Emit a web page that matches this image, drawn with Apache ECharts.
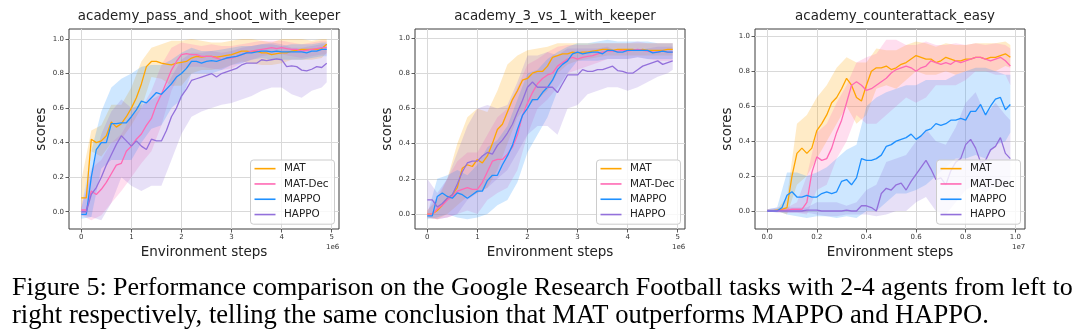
<!DOCTYPE html>
<html>
<head>
<meta charset="utf-8">
<script src="https://cdn.jsdelivr.net/npm/echarts@6/dist/echarts.min.js"></script>
<style>
html,body{margin:0;padding:0;background:#fff;}
#chart{width:1080px;height:334px;}
</style>
</head>
<body>
<div id="chart"></div>
<script>
// ---------------- DATA ----------------
const seriesNames = ['MAT', 'MAT-Dec', 'MAPPO', 'HAPPO'];
const panelTitles = ['academy_pass_and_shoot_with_keeper', 'academy_3_vs_1_with_keeper', 'academy_counterattack_easy'];

// x positions (environment steps, in units of 1e6 for panels 1-2 and 1e7 for panel 3)
const steps12 = [0.0,0.1,0.2,0.3,0.4,0.5,0.6,0.7,0.8,0.9,1.0,1.1,1.2,1.3,1.4,1.5,1.6,1.7,1.8,1.9,2.0,2.1,2.2,2.3,2.4,2.5,2.6,2.7,2.8,2.9,3.0,3.1,3.2,3.3,3.4,3.5,3.6,3.7,3.8,3.9,4.0,4.1,4.2,4.3,4.4,4.5,4.6,4.7,4.8,4.9];
const bandSteps12 = [0.0,0.2,0.4,0.6,0.8,1.0,1.2,1.4,1.6,1.8,2.0,2.2,2.4,2.6,2.8,3.0,3.2,3.4,3.6,3.8,4.0,4.2,4.4,4.6,4.8,4.9];
const steps3 = [0.00,0.02,0.04,0.06,0.08,0.10,0.12,0.14,0.16,0.18,0.20,0.22,0.24,0.26,0.28,0.30,0.32,0.34,0.36,0.38,0.40,0.42,0.44,0.46,0.48,0.50,0.52,0.54,0.56,0.58,0.60,0.62,0.64,0.66,0.68,0.70,0.72,0.74,0.76,0.78,0.80,0.82,0.84,0.86,0.88,0.90,0.92,0.94,0.96,0.98];
const bandSteps3 = [0.00,0.04,0.08,0.12,0.16,0.20,0.24,0.28,0.32,0.36,0.40,0.44,0.48,0.52,0.56,0.60,0.64,0.68,0.72,0.76,0.80,0.84,0.88,0.92,0.96,0.98];

// tick labels
const xTicks12 = [0, 1, 2, 3, 4, 5];
const xTicks3 = [0.0, 0.2, 0.4, 0.6, 0.8, 1.0];
const yTicks = [0.0, 0.2, 0.4, 0.6, 0.8, 1.0];
const xExponent = ['1e6', '1e6', '1e7'];

// ---- Panel 1: academy_pass_and_shoot_with_keeper ----
const p1_MAT     = [0.08,0.08,0.42,0.40,0.41,0.44,0.52,0.49,0.51,0.55,0.60,0.66,0.74,0.84,0.87,0.87,0.86,0.855,0.85,0.86,0.865,0.87,0.89,0.90,0.895,0.90,0.90,0.895,0.90,0.905,0.91,0.92,0.93,0.93,0.925,0.93,0.92,0.92,0.91,0.915,0.92,0.92,0.93,0.935,0.94,0.94,0.94,0.94,0.945,0.97];
const p1_MATDec  = [0.01,0.01,0.12,0.10,0.13,0.17,0.22,0.27,0.28,0.35,0.38,0.42,0.45,0.50,0.54,0.62,0.68,0.75,0.82,0.87,0.91,0.915,0.91,0.91,0.90,0.90,0.90,0.89,0.88,0.89,0.89,0.90,0.91,0.92,0.93,0.935,0.94,0.945,0.95,0.945,0.95,0.945,0.94,0.94,0.93,0.935,0.94,0.945,0.95,0.95];
const p1_MAPPO   = [-0.015,-0.015,0.20,0.36,0.40,0.40,0.51,0.51,0.515,0.515,0.55,0.59,0.64,0.63,0.66,0.69,0.68,0.71,0.74,0.78,0.80,0.83,0.87,0.87,0.86,0.87,0.875,0.87,0.88,0.89,0.895,0.90,0.91,0.92,0.92,0.925,0.93,0.93,0.925,0.93,0.925,0.925,0.925,0.925,0.925,0.92,0.93,0.93,0.94,0.94];
const p1_HAPPO   = [0.0,0.0,0.10,0.14,0.20,0.27,0.33,0.39,0.44,0.41,0.38,0.41,0.38,0.36,0.42,0.41,0.41,0.47,0.55,0.60,0.67,0.71,0.76,0.77,0.78,0.79,0.80,0.78,0.80,0.81,0.82,0.83,0.85,0.86,0.86,0.86,0.88,0.875,0.88,0.885,0.88,0.84,0.845,0.84,0.82,0.815,0.825,0.84,0.835,0.86];
const p1_MAT_lo    = [0.0,0.35,0.32,0.40,0.42,0.50,0.60,0.78,0.77,0.73,0.73,0.80,0.82,0.82,0.83,0.85,0.87,0.86,0.85,0.85,0.86,0.88,0.88,0.88,0.89,0.92];
const p1_MAT_hi    = [0.18,0.47,0.50,0.62,0.62,0.72,0.87,0.95,0.97,0.99,0.99,1.0,0.99,0.98,0.98,0.99,1.0,1.0,0.99,0.98,1.0,1.0,1.0,0.99,1.0,1.0];
const p1_MATDec_lo = [-0.02,-0.05,-0.02,0.05,0.12,0.20,0.28,0.35,0.50,0.70,0.82,0.84,0.84,0.83,0.82,0.83,0.86,0.88,0.90,0.91,0.91,0.90,0.89,0.90,0.91,0.91];
const p1_MATDec_hi = [0.04,0.25,0.30,0.40,0.45,0.55,0.60,0.70,0.85,0.95,0.98,0.97,0.96,0.97,0.96,0.96,0.97,0.98,0.99,0.99,0.99,0.98,0.97,0.98,0.99,0.99];
const p1_MAPPO_lo  = [-0.04,-0.03,0.25,0.30,0.30,0.30,0.40,0.48,0.50,0.60,0.65,0.80,0.80,0.80,0.82,0.85,0.86,0.88,0.89,0.88,0.88,0.88,0.88,0.89,0.90,0.90];
const p1_MAPPO_hi  = [0.01,0.35,0.58,0.72,0.77,0.80,0.84,0.85,0.85,0.88,0.92,0.95,0.93,0.93,0.94,0.95,0.96,0.96,0.97,0.97,0.96,0.97,0.97,0.97,0.98,0.98];
const p1_HAPPO_lo  = [-0.02,-0.03,-0.05,0.05,0.20,0.15,0.12,0.15,0.15,0.30,0.45,0.55,0.58,0.60,0.62,0.63,0.65,0.67,0.70,0.72,0.72,0.68,0.66,0.70,0.72,0.75];
const p1_HAPPO_hi  = [0.02,0.22,0.45,0.58,0.65,0.60,0.62,0.65,0.68,0.78,0.88,0.92,0.92,0.93,0.92,0.93,0.95,0.96,0.97,0.98,0.97,0.95,0.95,0.96,0.97,0.97];

// ---- Panel 2: academy_3_vs_1_with_keeper ----
const p2_MAT     = [0.0,0.0,0.02,0.05,0.09,0.11,0.15,0.26,0.28,0.27,0.31,0.29,0.33,0.40,0.48,0.51,0.58,0.65,0.70,0.76,0.77,0.80,0.81,0.81,0.84,0.89,0.90,0.91,0.91,0.92,0.915,0.92,0.92,0.925,0.93,0.935,0.935,0.93,0.935,0.935,0.935,0.935,0.93,0.935,0.93,0.93,0.93,0.93,0.935,0.935];
const p2_MATDec  = [0.0,0.0,0.03,0.05,0.08,0.10,0.13,0.14,0.15,0.14,0.14,0.18,0.24,0.30,0.31,0.31,0.34,0.38,0.45,0.56,0.63,0.69,0.74,0.77,0.79,0.80,0.84,0.86,0.88,0.89,0.88,0.89,0.895,0.90,0.91,0.92,0.925,0.925,0.925,0.93,0.925,0.93,0.935,0.93,0.925,0.92,0.92,0.925,0.92,0.92];
const p2_MAPPO   = [-0.01,-0.01,0.10,0.12,0.10,0.09,0.12,0.11,0.09,0.11,0.13,0.13,0.19,0.22,0.22,0.28,0.33,0.39,0.48,0.56,0.60,0.65,0.65,0.69,0.72,0.76,0.82,0.85,0.87,0.91,0.92,0.91,0.915,0.92,0.92,0.91,0.93,0.93,0.92,0.92,0.93,0.93,0.93,0.93,0.93,0.915,0.92,0.925,0.92,0.92];
const p2_HAPPO   = [0.08,0.08,0.04,0.06,0.09,0.11,0.17,0.24,0.29,0.30,0.30,0.33,0.35,0.34,0.39,0.42,0.46,0.51,0.58,0.645,0.72,0.75,0.72,0.72,0.72,0.72,0.69,0.74,0.79,0.79,0.79,0.82,0.81,0.81,0.82,0.82,0.83,0.84,0.815,0.81,0.80,0.80,0.82,0.84,0.85,0.86,0.87,0.85,0.86,0.87];
const p2_MAT_lo    = [-0.02,-0.03,0.0,0.05,0.10,0.12,0.15,0.25,0.40,0.55,0.62,0.65,0.70,0.80,0.85,0.87,0.88,0.89,0.90,0.90,0.90,0.90,0.90,0.90,0.90,0.90];
const p2_MAT_hi    = [0.02,0.08,0.20,0.40,0.55,0.60,0.58,0.70,0.85,0.90,0.93,0.94,0.95,0.97,0.97,0.97,0.97,0.97,0.97,0.97,0.97,0.97,0.97,0.97,0.97,0.97];
const p2_MATDec_lo = [-0.02,-0.03,-0.02,0.0,0.02,0.0,0.08,0.12,0.15,0.25,0.45,0.60,0.65,0.72,0.80,0.82,0.84,0.86,0.88,0.88,0.88,0.89,0.88,0.87,0.87,0.87];
const p2_MATDec_hi = [0.02,0.10,0.20,0.30,0.35,0.35,0.45,0.55,0.60,0.72,0.85,0.88,0.92,0.95,0.96,0.96,0.96,0.97,0.97,0.97,0.97,0.98,0.97,0.97,0.97,0.97];
const p2_MAPPO_lo  = [-0.03,-0.02,0.0,-0.02,-0.03,-0.02,0.0,0.05,0.08,0.18,0.35,0.45,0.55,0.70,0.80,0.87,0.87,0.87,0.88,0.88,0.88,0.89,0.88,0.88,0.88,0.88];
const p2_MAPPO_hi  = [0.0,0.20,0.22,0.25,0.22,0.28,0.38,0.42,0.50,0.65,0.80,0.82,0.88,0.92,0.95,0.97,0.97,0.98,0.99,0.98,0.98,0.98,0.98,0.97,0.97,0.97];
const p2_HAPPO_lo  = [-0.02,-0.03,-0.02,0.0,0.08,0.12,0.15,0.20,0.25,0.35,0.45,0.50,0.50,0.45,0.60,0.62,0.68,0.70,0.72,0.72,0.70,0.72,0.75,0.78,0.80,0.82];
const p2_HAPPO_hi  = [0.20,0.12,0.20,0.35,0.50,0.60,0.62,0.60,0.62,0.75,0.90,0.90,0.92,0.90,0.94,0.94,0.94,0.94,0.95,0.92,0.92,0.93,0.94,0.95,0.95,0.95];

// ---- Panel 3: academy_counterattack_easy ----
const p3_MAT     = [0.0,0.0,0.005,0.01,0.02,0.20,0.33,0.36,0.33,0.36,0.46,0.50,0.55,0.62,0.65,0.70,0.76,0.72,0.65,0.63,0.72,0.80,0.82,0.82,0.83,0.81,0.82,0.84,0.85,0.87,0.89,0.88,0.87,0.87,0.85,0.86,0.88,0.87,0.86,0.86,0.87,0.87,0.88,0.88,0.87,0.88,0.88,0.89,0.90,0.88];
const p3_MATDec  = [0.0,0.0,0.0,0.005,0.005,0.01,0.01,0.01,0.05,0.22,0.31,0.29,0.30,0.36,0.45,0.52,0.62,0.72,0.74,0.72,0.69,0.70,0.72,0.74,0.76,0.79,0.81,0.82,0.83,0.82,0.80,0.82,0.83,0.86,0.85,0.84,0.85,0.84,0.86,0.85,0.86,0.87,0.88,0.88,0.87,0.86,0.87,0.88,0.86,0.83];
const p3_MAPPO   = [0.0,0.0,0.0,0.02,0.09,0.11,0.08,0.08,0.09,0.08,0.08,0.10,0.11,0.10,0.11,0.17,0.18,0.15,0.19,0.30,0.29,0.29,0.30,0.32,0.37,0.38,0.40,0.41,0.42,0.44,0.41,0.43,0.46,0.47,0.50,0.49,0.50,0.52,0.52,0.53,0.52,0.57,0.57,0.61,0.55,0.60,0.64,0.65,0.58,0.61];
const p3_HAPPO   = [0.0,0.0,0.0,0.0,0.0,0.0,0.0,0.0,0.005,0.005,0.005,0.0,0.0,0.0,0.0,0.0,0.005,0.0,0.0,0.03,0.03,0.02,0.0,0.10,0.13,0.12,0.15,0.16,0.12,0.17,0.21,0.25,0.29,0.24,0.18,0.19,0.15,0.23,0.28,0.30,0.38,0.41,0.36,0.28,0.29,0.35,0.37,0.42,0.33,0.30];
const p3_MAT_lo    = [0.0,0.0,-0.02,0.15,0.20,0.30,0.40,0.50,0.60,0.50,0.55,0.70,0.72,0.70,0.75,0.80,0.78,0.78,0.80,0.78,0.80,0.80,0.80,0.80,0.83,0.82];
const p3_MAT_hi    = [0.01,0.01,0.08,0.50,0.55,0.65,0.72,0.82,0.88,0.85,0.85,0.93,0.92,0.92,0.95,0.97,0.96,0.94,0.96,0.95,0.95,0.96,0.96,0.96,0.97,0.95];
const p3_MATDec_lo = [0.0,0.0,-0.01,-0.01,-0.02,0.12,0.15,0.30,0.40,0.55,0.50,0.50,0.55,0.60,0.65,0.62,0.65,0.72,0.72,0.72,0.75,0.80,0.80,0.78,0.78,0.72];
const p3_MATDec_hi = [0.01,0.01,0.02,0.05,0.20,0.45,0.50,0.62,0.72,0.85,0.88,0.90,0.98,0.98,0.95,0.95,0.97,0.95,0.95,0.96,0.95,0.96,0.95,0.96,0.95,0.93];
const p3_MAPPO_lo  = [0.0,0.0,-0.02,-0.03,-0.04,-0.03,-0.03,-0.04,-0.03,-0.04,0.0,0.0,0.05,0.10,0.10,0.12,0.15,0.20,0.25,0.30,0.30,0.32,0.30,0.38,0.40,0.45];
const p3_MAPPO_hi  = [0.01,0.02,0.22,0.22,0.20,0.22,0.25,0.30,0.35,0.38,0.60,0.65,0.68,0.70,0.72,0.72,0.75,0.75,0.75,0.78,0.80,0.82,0.82,0.80,0.78,0.78];
const p3_HAPPO_lo  = [0.0,-0.01,-0.01,-0.01,-0.01,-0.02,-0.03,-0.03,-0.02,-0.02,-0.02,-0.03,-0.02,0.0,0.0,0.05,0.08,0.0,-0.02,0.05,0.12,0.15,0.10,0.15,0.12,0.15];
const p3_HAPPO_hi  = [0.01,0.02,0.02,0.02,0.02,0.05,0.05,0.05,0.03,0.05,0.12,0.15,0.28,0.30,0.32,0.40,0.47,0.40,0.38,0.48,0.62,0.68,0.55,0.62,0.55,0.52];

const captionLines = [
  'Figure 5: Performance comparison on the Google Research Football tasks with 2-4 agents from left to',
  'right respectively, telling the same conclusion that MAT outperforms MAPPO and HAPPO.'
];

// ---------------- STYLE / LAYOUT ----------------
const COLORS = ['#FFA500', '#FF69B4', '#1E90FF', '#9370DB'];
const FONT = 'DejaVu Sans';

const panels = [
  { steps: steps12, bandSteps: bandSteps12, ticks: xTicks12, xmin: -0.245, xmax: 5.145, ymin: -0.10, ymax: 1.058,
    lines: [p1_MAT, p1_MATDec, p1_MAPPO, p1_HAPPO],
    lo: [p1_MAT_lo, p1_MATDec_lo, p1_MAPPO_lo, p1_HAPPO_lo],
    hi: [p1_MAT_hi, p1_MATDec_hi, p1_MAPPO_hi, p1_HAPPO_hi],
    grid: { left: 69, top: 29, width: 270, height: 200 }, fmt: v => String(Math.round(v)) },
  { steps: steps12, bandSteps: bandSteps12, ticks: xTicks12, xmin: -0.245, xmax: 5.145, ymin: -0.085, ymax: 1.051,
    lines: [p2_MAT, p2_MATDec, p2_MAPPO, p2_HAPPO],
    lo: [p2_MAT_lo, p2_MATDec_lo, p2_MAPPO_lo, p2_HAPPO_lo],
    hi: [p2_MAT_hi, p2_MATDec_hi, p2_MAPPO_hi, p2_HAPPO_hi],
    grid: { left: 415, top: 29, width: 270, height: 200 }, fmt: v => String(Math.round(v)) },
  { steps: steps3, bandSteps: bandSteps3, ticks: xTicks3, xmin: -0.049, xmax: 1.039, ymin: -0.103, ymax: 1.042,
    lines: [p3_MAT, p3_MATDec, p3_MAPPO, p3_HAPPO],
    lo: [p3_MAT_lo, p3_MATDec_lo, p3_MAPPO_lo, p3_HAPPO_lo],
    hi: [p3_MAT_hi, p3_MATDec_hi, p3_MAPPO_hi, p3_HAPPO_hi],
    grid: { left: 755, top: 29, width: 270, height: 200 }, fmt: v => v.toFixed(1) }
];

const chart = echarts.init(document.getElementById('chart'), null, { renderer: 'canvas' });

const grids = [], xAxes = [], yAxes = [], titles = [], legends = [], series = [], graphics = [];

panels.forEach((p, gi) => {
  grids.push(Object.assign({ show: true, borderColor: '#3c3c3c', borderWidth: 1, backgroundColor: 'transparent' }, p.grid));
  titles.push({
    text: panelTitles[gi], left: p.grid.left + p.grid.width / 2, top: 5, textAlign: 'center',
    textStyle: { fontFamily: FONT, fontSize: 13.4, fontWeight: 'normal', color: '#222' }
  });
  xAxes.push({
    type: 'value', gridIndex: gi, min: p.xmin, max: p.xmax,
    name: 'Environment steps', nameLocation: 'middle', nameGap: 13,
    nameTextStyle: { fontFamily: FONT, fontSize: 13.5, color: '#222', verticalAlign: 'top' },
    axisLine: { show: false, onZero: false },
    axisTick: { show: true, inside: false, length: 3.5, customValues: p.ticks, lineStyle: { color: '#333', width: 0.8 } },
    axisLabel: { customValues: p.ticks, margin: 5, fontFamily: FONT, fontSize: 7, color: '#333', formatter: p.fmt },
    splitLine: { show: true, lineStyle: { color: '#d9d9d9', width: 1 } }
  });
  yAxes.push({
    type: 'value', gridIndex: gi, min: p.ymin, max: p.ymax,
    name: 'scores', nameLocation: 'middle', nameGap: 18,
    nameTextStyle: { fontFamily: FONT, fontSize: 13.5, color: '#222' },
    axisLine: { show: false, onZero: false },
    axisTick: { show: true, inside: false, length: 3.5, customValues: yTicks, lineStyle: { color: '#333', width: 0.8 } },
    axisLabel: { customValues: yTicks, margin: 5, fontFamily: FONT, fontSize: 7, color: '#333', formatter: v => v.toFixed(1) },
    splitLine: { show: true, lineStyle: { color: '#d9d9d9', width: 1 } }
  });
  legends.push({
    data: seriesNames, orient: 'vertical', left: p.grid.left + p.grid.width - 88.5, top: 160,
    icon: 'rect', itemWidth: 21, itemHeight: 1.6, itemGap: 0, padding: [1, 6, 2, 4],
    backgroundColor: 'rgba(255,255,255,0.8)', borderColor: '#cccccc', borderWidth: 1, borderRadius: 3,
    selectedMode: false, z: 10,
    textStyle: { fontFamily: FONT, fontSize: 10.4, color: '#222', lineHeight: 15.3, padding: [0, 0, 0, 3.5] }
  });
  // shaded bands
  p.lines.forEach((_, k) => {
    const xs = p.bandSteps, lo = p.lo[k], hi = p.hi[k];
    series.push({
      type: 'custom', name: seriesNames[k] + ' band ' + gi, xAxisIndex: gi, yAxisIndex: gi,
      silent: true, clip: true, z: 1, animation: false,
      data: xs.map((x, i) => [x, lo[i], hi[i]]),
      encode: { x: 0, y: [1, 2] },
      renderItem: function (params, api) {
        if (params.dataIndex !== 0) return null;
        const pts = [];
        for (let i = 0; i < xs.length; i++) pts.push(api.coord([xs[i], hi[i]]));
        for (let i = xs.length - 1; i >= 0; i--) pts.push(api.coord([xs[i], lo[i]]));
        return { type: 'polygon', shape: { points: pts }, style: { fill: COLORS[k], opacity: 0.22 } };
      }
    });
  });
  // mean lines
  p.lines.forEach((vals, k) => {
    series.push({
      type: 'line', name: seriesNames[k], xAxisIndex: gi, yAxisIndex: gi,
      data: p.steps.map((x, i) => [x, vals[i]]),
      showSymbol: false, symbol: 'none', z: 3, animation: false, clip: true,
      color: COLORS[k], itemStyle: { color: COLORS[k] },
      lineStyle: { color: COLORS[k], width: 1.3 }
    });
  });
  graphics.push({
    type: 'text', left: p.grid.left + p.grid.width - 13, top: 244, silent: true,
    style: { text: xExponent[gi], font: '7px "DejaVu Sans"', fill: '#333' }
  });
});

const captionFonts = [26, 26.6];
const captionTops = [275, 303];
captionLines.forEach((t, i) => {
  graphics.push({
    type: 'text', left: 12, top: captionTops[i], silent: true,
    style: { text: t, font: captionFonts[i] + 'px "Liberation Serif"', fill: '#000' }
  });
});

chart.setOption({
  animation: false,
  backgroundColor: '#ffffff',
  title: titles,
  grid: grids,
  xAxis: xAxes,
  yAxis: yAxes,
  legend: legends,
  series: series,
  graphic: graphics
});
</script>
</body>
</html>
